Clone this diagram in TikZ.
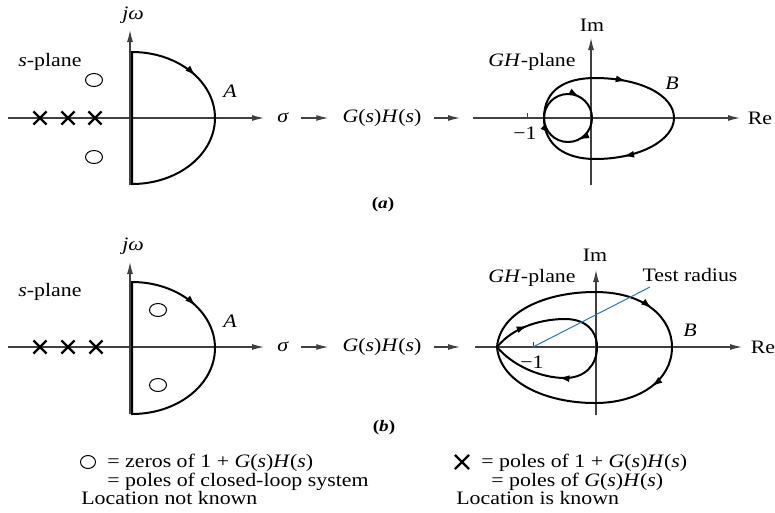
\documentclass[tikz,border=0pt]{standalone}
\usepackage{fontspec}
\setmainfont{Liberation Serif}
\usetikzlibrary{arrows.meta,positioning,decorations.markings,shapes.geometric,shapes.misc}
\definecolor{testblue}{RGB}{40,118,186}
\tikzset{
  tengely/.style={line width=1.1pt,black!75,-{Latex[length=12pt,width=6pt]}},
  flow/.style={line width=1.1pt,black!75,-{Latex[length=12pt,width=6pt]}},
  kontur/.style={line width=2pt},
  mk/.style={postaction={decorate,decoration={markings,mark=at position #1 with {\arrow{Latex[length=11pt,width=7pt]}}}}},
  mkr/.style={postaction={decorate,decoration={markings,mark=at position #1 with {\arrowreversed{Latex[length=11pt,width=7pt]}}}}},
  lbl/.style={font=\fontsize{19}{21}\selectfont,xscale=1.15,inner sep=1pt},
  capt/.style={font=\fontsize{16}{18}\selectfont\bfseries,xscale=1.2,inner sep=1pt},
  pole/.style={cross out,draw,line width=2.2pt,minimum size=11pt,inner sep=0pt},
  zero/.style={ellipse,draw,line width=1pt,minimum width=17pt,minimum height=13pt,inner sep=0pt},
  tick/.style={line width=1pt,black!75},
  testln/.style={line width=1pt,testblue},
}
\begin{document}
\begin{tikzpicture}[x=1pt,y=-1pt]
  \useasboundingbox (0,0) rectangle (775,512);
  \draw[tengely] (8,118) -- (264,118); \draw[tengely] (130,185) -- (130,30);
  \node[lbl] (jwa) at (133,15) {\textit{jω}};
  \node[lbl] (spa) at (50,62) {\textit{s}-plane};
  \draw[kontur,mk=0.19] (132,52) arc[start angle=-90,end angle=90,x radius=83,y radius=66] -- cycle;
  \node[lbl] (la) at (230,91) {\textit{A}};
  \node[zero] (z1a) at (94,80) {}; \node[zero] (z2a) at (94,157) {};
  \node[pole] (p1a) at (40,118) {}; \node[pole] (p2a) at (68,118) {}; \node[pole] (p3a) at (95,118) {};
  \node[lbl] (siga) at (283,118) {\textit{σ}};
  \node[lbl] (gha) at (382,118) {\textit{G}(\textit{s})\textit{H}(\textit{s})};
  \coordinate (outa) at (460,118);
  \draw[flow,shorten <=11pt,shorten >=13pt] (siga) -- (gha); \draw[flow,shorten <=11pt] (gha) -- (outa);
  \draw[tengely] (473,118) -- (740,118); \draw[tengely] (591,185) -- (591,38);
  \node[lbl] (ima) at (592,25) {Im};
  \node[lbl] (rea) at (760,118) {Re};
  \draw[tick] (527,118) -- (527,113);
  \node[lbl] (m1a) at (525,133) {−1};
  \node[lbl] (gpa) at (532,62) {\textit{GH}-plane};
  \node[lbl] (lba) at (672,83) {\textit{B}};
  \draw[kontur,mk=0.31,mk=0.7] (544,118) .. controls (544,90) and (565,78) .. (595,78)
    .. controls (640,78) and (674,95) .. (674,118) .. controls (674,140) and (640,159) .. (595,159)
    .. controls (565,159) and (544,145) .. (544,118);
  \draw[kontur,mk=0.33,mk=0.68,mkr=0.88] (544,118) .. controls (544,104.7) and (554.7,94) .. (568,94)
    .. controls (581.3,94) and (592,104.7) .. (592,118) .. controls (592,131.3) and (581.3,142) .. (568,142)
    .. controls (554.7,142) and (544,131.3) .. (544,118);
  \node[capt] (capa) at (383,205) {(\textit{a})};
  \draw[tengely] (8,347) -- (264,347); \draw[tengely] (130,414) -- (130,262);
  \node[lbl] (jwb) at (133,246) {\textit{jω}};
  \node[lbl] (spb) at (50,292) {\textit{s}-plane};
  \draw[kontur,mk=0.19] (132,282) arc[start angle=-90,end angle=90,x radius=83,y radius=66] -- cycle;
  \node[lbl] (lab) at (230,321) {\textit{A}};
  \node[zero] (z1b) at (158,310) {}; \node[zero] (z2b) at (158,385) {};
  \node[pole] (p1b) at (40,347) {}; \node[pole] (p2b) at (68,347) {}; \node[pole] (p3b) at (96,347) {};
  \node[lbl] (sigb) at (283,347) {\textit{σ}};
  \node[lbl] (ghb) at (382,347) {\textit{G}(\textit{s})\textit{H}(\textit{s})};
  \coordinate (outb) at (460,347);
  \draw[flow,shorten <=11pt,shorten >=13pt] (sigb) -- (ghb); \draw[flow,shorten <=11pt] (ghb) -- (outb);
  \draw[tengely] (475,347) -- (742,347); \draw[tengely] (596,415) -- (596,270);
  \node[lbl] (imb) at (595,255) {Im};
  \node[lbl] (reb) at (763,347) {Re};
  \coordinate (m1b) at (533,347);
  \draw[tick] (m1b) -- (533,342);
  \node[lbl] (m1lb) at (532,362) {−1};
  \node[lbl] (gpb) at (532,278) {\textit{GH}-plane};
  \node[lbl] (lbb) at (690,330) {\textit{B}};
  \node[lbl] (trad) at (690,275) {Test radius};
  \coordinate (trend) at (650,287);
  \draw[kontur,mk=0.4,mk=0.6] (497,347) .. controls (500,312) and (545,292) .. (595,292)
    .. controls (645,292) and (672,318) .. (672,347) .. controls (672,380) and (640,403) .. (595,403)
    .. controls (545,403) and (500,382) .. (497,347);
  \draw[kontur,mk=0.15,mk=0.72] (497,347) .. controls (515,325) and (545,319) .. (565,319)
    .. controls (585,319) and (597,330) .. (597,347) .. controls (597,365) and (585,378) .. (565,378)
    .. controls (540,378) and (512,365) .. (497,347);
  \draw[testln] (m1b) -- (trend);
  \node[capt] (capb) at (384,428) {(\textit{b})};
  \node[zero,minimum width=15pt] (zl) at (88,462) {};
  \node[lbl,anchor=base west] (zl1) at (106,467) {= zeros of 1 + \textit{G}(\textit{s})\textit{H}(\textit{s})};
  \node[lbl,anchor=base west] (zl2) at (106,486) {= poles of closed-loop system};
  \node[lbl,anchor=base west] (zl3) at (80,504) {Location not known};
  \node[pole,minimum size=12pt] (pl) at (462,462) {};
  \node[lbl,anchor=base west] (pl1) at (480,467) {= poles of 1 + \textit{G}(\textit{s})\textit{H}(\textit{s})};
  \node[lbl,anchor=base west] (pl2) at (490,486) {= poles of \textit{G}(\textit{s})\textit{H}(\textit{s})};
  \node[lbl,anchor=base west] (pl3) at (455,504) {Location is known};
\end{tikzpicture}
\end{document}
